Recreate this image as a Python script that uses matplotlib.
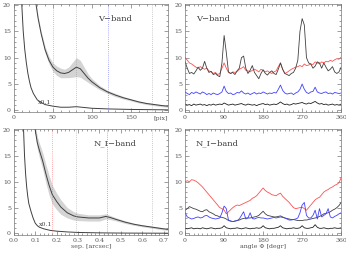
import numpy as np
import matplotlib
matplotlib.use("Agg")
import matplotlib.pyplot as plt
from matplotlib.ticker import MultipleLocator

# --- radial profiles, V-band (x in pix) ---
v_main_x = [28, 31, 35, 40, 45, 50, 55, 60, 65, 70, 75, 80, 85, 90, 95, 100, 110, 120, 130, 140, 150, 160, 170, 180, 190, 197]
v_main_y = [20.5, 17.5, 14.5, 11.5, 9.5, 8.2, 7.5, 7.1, 7.0, 7.2, 7.7, 8.2, 7.9, 7.0, 6.1, 5.4, 4.3, 3.5, 2.9, 2.4, 2.0, 1.6, 1.3, 1.1, 0.9, 0.8]
v_main_err = [0.4, 0.4, 0.5, 0.6, 0.7, 0.8, 0.9, 0.9, 0.8, 1.0, 1.4, 1.8, 1.6, 1.2, 0.8, 0.6, 0.4, 0.3, 0.3, 0.25, 0.2, 0.2, 0.2, 0.2, 0.2, 0.2]
v_psf_x = [10, 12, 14, 16, 18, 20, 22, 25, 30, 35, 40, 50, 60, 70, 80, 90, 100, 120, 150, 197]
v_psf_y = [20.5, 15, 11.5, 9, 7, 5.5, 4.3, 3.2, 2.0, 1.5, 1.1, 0.8, 0.6, 0.6, 0.7, 0.55, 0.4, 0.28, 0.18, 0.1]
v_lines = [50, 80, 120, 177]

# --- radial profiles, N_I-band (x in arcsec) ---
n_main_x = [0.098, 0.11, 0.12, 0.135, 0.15, 0.165, 0.18, 0.2, 0.22, 0.25, 0.28, 0.3, 0.35, 0.4, 0.43, 0.45, 0.48, 0.52, 0.56, 0.6, 0.65, 0.7, 0.72]
n_main_y = [20.5, 17.5, 16, 14, 11.5, 9.3, 7.5, 6.2, 5.1, 4.0, 3.4, 3.2, 3.0, 3.0, 3.3, 3.1, 2.7, 2.2, 1.8, 1.5, 1.2, 0.9, 0.8]
n_main_err = [1.0, 1.2, 1.4, 1.6, 1.8, 1.9, 1.8, 1.6, 1.4, 1.0, 0.8, 0.7, 0.6, 0.6, 0.5, 0.4, 0.3, 0.25, 0.2, 0.2, 0.2, 0.2, 0.2]
n_psf_x = [0.045, 0.05, 0.055, 0.06, 0.065, 0.07, 0.08, 0.09, 0.1, 0.11, 0.12, 0.14, 0.17, 0.2, 0.25, 0.3, 0.4, 0.5, 0.72]
n_psf_y = [20.5, 15, 11.5, 9.0, 7.2, 5.8, 4.3, 3.0, 2.0, 1.5, 1.2, 0.9, 0.6, 0.45, 0.3, 0.2, 0.12, 0.08, 0.05]
n_lines = [0.18, 0.29, 0.435, 0.645]
line_cols = ["#ff6060", "#999999", "#6060ff", "#999999"]

# --- azimuthal profiles (angle in degr, 5 deg steps) ---
angle = np.arange(0, 361, 5)

v_black = [9.2, 8.0, 7.0, 7.2, 6.9, 7.5, 8.2, 7.6, 8.0, 9.3, 8.0, 7.2, 7.4, 6.8, 7.0, 6.6, 6.4, 9.0, 14.2, 11.0,
           7.3, 7.0, 7.2, 6.8, 7.5, 8.0, 10.0, 10.3, 8.0, 7.0, 7.6, 8.5, 7.2, 6.6, 6.0, 7.0, 7.7, 7.0, 6.7, 7.2,
           7.5, 7.0, 6.8, 7.8, 9.0, 7.8, 7.0, 6.8, 6.6, 7.0, 7.2, 8.0, 9.5, 15.0, 17.4, 16.2, 10.0, 9.0, 8.8, 8.0,
           8.4, 9.2, 9.0, 8.0, 9.0, 8.2, 7.5, 7.8, 8.3, 7.3, 7.0, 7.3, 8.2]
v_red = [10.0, 9.5, 9.0, 8.8, 8.5, 8.2, 8.0, 8.3, 8.0, 7.8, 8.0, 7.5, 7.3, 7.0, 7.2, 6.8, 7.0, 8.0, 9.0, 8.0,
         7.2, 7.0, 7.3, 7.2, 7.4, 7.8, 8.0, 8.3, 7.6, 7.5, 7.3, 7.6, 7.8, 7.6, 7.3, 7.8, 7.6, 7.3, 7.5, 7.2,
         7.0, 7.3, 7.5, 8.3, 9.0, 7.8, 7.0, 7.2, 7.5, 7.8, 8.0, 8.2, 8.3, 8.5, 8.3, 8.8, 8.5, 8.6, 8.8, 8.7,
         9.2, 9.0, 8.8, 9.2, 9.0, 9.3, 9.2, 9.5, 9.3, 9.6, 9.8, 9.7, 10.1]
v_blue = [3.5, 3.2, 3.0, 3.4, 3.2, 3.5, 3.3, 3.1, 3.5, 3.3, 3.0, 3.2, 3.0, 3.3, 3.1, 3.0, 3.2, 3.5, 4.6, 3.6,
          3.2, 3.3, 3.0, 3.1, 3.4, 3.3, 3.7, 3.3, 3.1, 3.3, 3.0, 3.2, 3.4, 3.1, 3.3, 3.2, 3.5, 3.3, 3.1, 3.3,
          3.2, 3.4, 3.3, 4.0, 4.8, 3.8, 3.3, 3.1, 3.2, 3.3, 3.0, 3.3, 3.5, 4.0, 5.0, 4.0, 3.4, 3.2, 3.5, 3.6,
          4.4, 3.5, 3.3, 3.2, 3.4, 3.5, 3.2, 3.3, 3.1, 3.4, 3.3, 3.2, 3.3]
v_low = [1.2, 1.0, 1.1, 0.9, 1.2, 1.0, 1.1, 1.2, 1.0, 1.1, 0.9, 1.1, 1.0, 1.2, 1.0, 1.1, 1.2, 1.1, 1.4, 1.2,
         1.0, 1.1, 1.2, 1.0, 1.1, 1.2, 1.3, 1.1, 1.0, 1.2, 1.1, 1.0, 1.1, 0.9, 1.1, 1.2, 1.3, 1.1, 1.2, 1.0,
         1.1, 1.2, 1.1, 1.3, 1.6, 1.3, 1.1, 1.2, 1.0, 1.1, 1.3, 1.2, 1.3, 1.4, 1.5, 1.3, 1.2, 1.4, 1.3, 1.5,
         1.7, 1.4, 1.2, 1.3, 1.1, 1.2, 1.0, 1.1, 1.2, 1.0, 1.1, 1.0, 1.2]

n_red = [10.0, 10.2, 10.0, 10.4, 10.3, 10.1, 9.8, 9.4, 9.0, 8.5, 8.0, 7.5, 7.0, 6.5, 6.0, 5.5, 5.0, 4.8, 4.5, 3.8,
         4.2, 4.6, 5.0, 5.3, 5.5, 5.4, 5.6, 5.8, 6.0, 6.2, 6.4, 6.8, 7.0, 7.3, 7.8, 8.3, 8.8, 8.3, 8.0, 7.8,
         7.5, 7.4, 7.3, 7.6, 7.8, 7.2, 6.8, 6.4, 6.0, 5.5, 5.0, 4.8, 4.9, 5.0, 5.1, 4.8, 4.5, 5.0, 5.5, 6.0,
         6.5, 6.8, 7.0, 7.5, 8.0, 8.3, 8.5, 8.8, 9.0, 9.3, 9.5, 9.8, 10.8]
n_black = [4.5, 4.8, 5.2, 5.0, 4.8, 4.7, 4.5, 4.3, 4.2, 4.5, 4.6, 4.2, 4.0, 3.8, 3.5, 3.4, 3.2, 3.1, 3.0, 2.8,
           2.5, 2.4, 2.3, 2.4, 2.5, 2.6, 2.8, 2.9, 3.0, 3.0, 3.0, 3.1, 3.2, 3.3, 3.5, 3.9, 4.3, 3.8, 3.5, 3.4,
           3.3, 3.2, 3.2, 3.3, 3.4, 3.2, 3.0, 2.9, 2.8, 2.7, 2.7, 2.6, 2.5, 2.5, 2.5, 2.6, 2.6, 2.7, 2.8, 2.9,
           3.0, 3.1, 3.3, 3.5, 3.8, 3.9, 4.0, 4.2, 4.5, 4.7, 5.0, 5.4, 6.0]
n_blue = [4.0, 3.2, 3.0, 2.8, 2.9, 3.1, 3.2, 3.0, 3.1, 3.4, 3.5, 3.2, 3.0, 2.9, 2.8, 2.9, 3.0, 4.0, 5.3, 4.8,
          2.6, 2.4, 2.3, 2.4, 2.5, 2.8, 3.5, 4.2, 2.8, 3.0, 4.0, 2.9, 2.8, 3.0, 3.1, 3.0, 3.0, 2.9, 2.8, 2.9,
          3.0, 3.1, 3.0, 3.1, 3.2, 3.1, 3.0, 2.8, 2.6, 2.6, 2.7, 2.8, 3.0, 4.0, 5.5, 6.0, 3.5, 3.0, 3.0, 3.5,
          4.5, 2.8, 4.8, 3.2, 3.5, 3.8, 4.8, 3.2, 3.0, 3.3, 3.5, 3.8, 4.0]
n_low = [1.0, 0.9, 1.0, 1.1, 0.9, 1.0, 1.0, 0.9, 1.1, 1.0, 0.9, 1.0, 1.1, 1.0, 0.9, 1.0, 1.0, 1.1, 1.5, 1.1,
         1.0, 0.9, 1.0, 1.0, 1.1, 1.0, 0.9, 1.0, 1.1, 1.0, 0.9, 1.0, 1.0, 1.1, 1.0, 1.1, 1.5, 1.1, 1.0, 0.9,
         1.0, 1.0, 1.1, 1.2, 1.5, 1.1, 1.0, 0.9, 1.0, 1.0, 1.1, 1.0, 1.0, 1.1, 1.5, 1.1, 1.0, 1.0, 1.1, 1.2,
         1.7, 1.2, 1.0, 1.0, 1.1, 1.0, 0.9, 1.0, 1.0, 1.1, 1.0, 1.0, 1.1]

plt.rcParams['font.family'] = ['DejaVu Serif']
plt.rcParams['font.size'] = 5

fig = plt.figure(figsize=(3.46, 2.58), dpi=100)
ax_tl = fig.add_axes([0.040, 0.566, 0.445, 0.419])
ax_tr = fig.add_axes([0.535, 0.566, 0.451, 0.419])
ax_bl = fig.add_axes([0.040, 0.089, 0.445, 0.411])
ax_br = fig.add_axes([0.535, 0.089, 0.451, 0.411])

dark = "#404040"


def style(ax, xmax, xmajor, xminor):
    ax.set_xlim(0, xmax)
    ax.set_ylim(-0.3, 20.2)
    ax.yaxis.set_major_locator(MultipleLocator(5))
    ax.yaxis.set_minor_locator(MultipleLocator(1))
    ax.xaxis.set_major_locator(MultipleLocator(xmajor))
    ax.xaxis.set_minor_locator(MultipleLocator(xminor))
    ax.tick_params(which='both', direction='in', top=True, right=True,
                   labelsize=4.5, pad=2, width=0.4, colors="#555555")
    ax.tick_params(which='major', length=3)
    ax.tick_params(which='minor', length=1.5)
    for s in ax.spines.values():
        s.set_linewidth(0.5)
        s.set_color("#777777")


# top-left: V-band radial
ax = ax_tl
lo = np.array(v_main_y) - np.array(v_main_err)
hi = np.array(v_main_y) + np.array(v_main_err)
ax.fill_between(v_main_x, lo, hi, color="#d4d4d4", lw=0)
ax.plot(v_main_x, v_main_y, color=dark, lw=0.7)
ax.plot(v_psf_x, v_psf_y, color=dark, lw=0.7)
for xv, c in zip(v_lines, line_cols):
    ax.axvline(xv, color=c, lw=0.5, ls=(0, (1, 2)))
style(ax, 197, 50, 10)
ax.set_xticks([0, 50, 100, 150])
ax.text(31, 1.3, "x0.1", fontsize=4.5, color=dark)
ax.text(130, 17, "V\u2212band", fontsize=6, color=dark, ha='center')
ax.text(1.0, -0.035, "[pix]", transform=ax.transAxes, ha='right', va='top', fontsize=4.5, color="#555555")

# bottom-left: N_I-band radial
ax = ax_bl
lo = np.array(n_main_y) - np.array(n_main_err)
hi = np.array(n_main_y) + np.array(n_main_err)
ax.fill_between(n_main_x, lo, hi, color="#d4d4d4", lw=0)
ax.plot(n_main_x, n_main_y, color=dark, lw=0.7)
ax.plot(n_psf_x, n_psf_y, color=dark, lw=0.7)
for xv, c in zip(n_lines, line_cols):
    ax.axvline(xv, color=c, lw=0.5, ls=(0, (1, 2)))
style(ax, 0.72, 0.1, 0.02)
ax.xaxis.set_major_formatter(matplotlib.ticker.FormatStrFormatter('%.1f'))
ax.text(0.115, 1.5, "x0.1", fontsize=4.5, color=dark)
ax.text(0.475, 17, "N_I\u2212band", fontsize=6, color=dark, ha='center')
ax.set_xlabel("sep. [arcsec]", fontsize=4.5, labelpad=1, color="#555555")

# top-right: V-band azimuthal
ax = ax_tr
ax.plot(angle, v_red, color="#ff5050", lw=0.6)
ax.plot(angle, v_black, color=dark, lw=0.6)
ax.plot(angle, v_blue, color="#4040ff", lw=0.6)
ax.plot(angle, v_low, color="#202020", lw=0.6)
style(ax, 360, 90, 10)
ax.text(25, 17, "V\u2212band", fontsize=6, color=dark)

# bottom-right: N_I-band azimuthal
ax = ax_br
ax.plot(angle, n_red, color="#ff5050", lw=0.6)
ax.plot(angle, n_black, color=dark, lw=0.6)
ax.plot(angle, n_blue, color="#4040ff", lw=0.6)
ax.plot(angle, n_low, color="#202020", lw=0.6)
style(ax, 360, 90, 10)
ax.text(25, 17, "N_I\u2212band", fontsize=6, color=dark)
ax.set_xlabel("angle \u03a6 [degr]", fontsize=4.5, labelpad=1, color="#555555")

fig.savefig("out.png", dpi=100)
